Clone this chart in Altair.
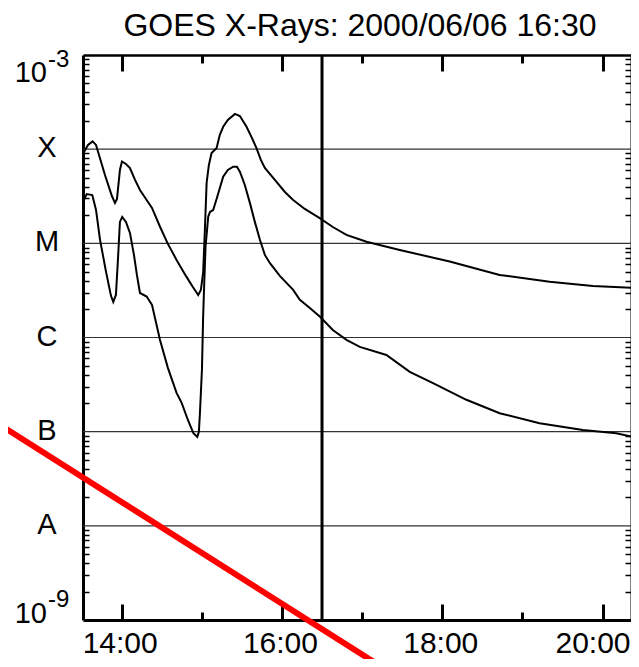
import altair as alt
import pandas as pd

FONT = "Liberation Sans"
TITLE = "GOES X-Rays: 2000/06/06 16:30"

X_DOMAIN = ["13:31:03", "20:21:20"]
Y_DOMAIN = [1e-9, 1e-3]

CLASS_FLUX = [1e-4, 1e-5, 1e-6, 1e-7, 1e-8]
CLASS_LABELS = ["X", "M", "C", "B", "A"]
TOP_FLUX = [1e-3]
BOTTOM_FLUX = [1e-9]
EDGE_BASE = ["10"]
TOP_EXP = ["-3"]
BOTTOM_EXP = ["-9"]

MAJOR_HOURS = [14, 16, 18, 20]
MINOR_HOURS = [15, 17, 19]
DECADES = [-9, -8, -7, -6, -5, -4]
MINOR_MANTISSA = [2, 3, 4, 5, 6, 7, 8, 9]

MARKER_TIME = ["16:30:00"]

RED_TIME = ["12:28:57", "17:13:14"]
RED_FLUX = [1.18e-7, 3.27e-10]

UPPER_TIME = [
    "13:31:48", "13:34:48", "13:38:12", "13:40:48", "13:47:30", "13:52:42",
    "13:55:00", "13:56:30", "13:58:42", "14:00:12", "14:03:12", "14:06:12",
    "14:10:00", "14:13:42", "14:18:42", "14:22:42", "14:28:42", "14:34:36",
    "14:41:06", "14:48:06", "14:53:18", "14:57:18", "14:59:18", "15:01:00",
    "15:02:18", "15:03:36", "15:05:18", "15:07:18", "15:11:06", "15:13:30",
    "15:16:00", "15:19:30", "15:24:48", "15:28:30", "15:33:30", "15:37:30",
    "15:41:00", "15:44:12", "15:47:12", "15:54:42", "16:02:12", "16:08:24",
    "16:17:06", "16:28:18", "16:38:06", "16:48:18", "17:03:18", "17:28:12",
    "18:05:36", "18:43:00", "19:20:24", "19:52:48", "20:26:30",
]
UPPER_FLUX = [
    9.33e-5, 1.11e-4, 1.21e-4, 1.11e-4, 5.32e-5, 3.18e-5,
    2.69e-5, 2.96e-5, 6.01e-5, 7.40e-5, 6.97e-5, 6.31e-5,
    4.71e-5, 3.69e-5, 2.89e-5, 2.38e-5, 1.50e-5, 9.86e-6,
    6.67e-6, 4.51e-6, 3.44e-6, 2.83e-6, 3.20e-6, 4.85e-6,
    1.39e-5, 4.38e-5, 6.79e-5, 9.12e-5, 1.03e-4, 1.42e-4,
    1.73e-4, 2.04e-4, 2.37e-4, 2.25e-4, 1.73e-4, 1.32e-4,
    1.02e-4, 7.68e-5, 6.31e-5, 4.71e-5, 3.51e-5, 2.89e-5,
    2.32e-5, 1.85e-5, 1.49e-5, 1.23e-5, 1.04e-5, 8.51e-6,
    6.40e-6, 4.62e-6, 3.92e-6, 3.53e-6, 3.34e-6,
]

LOWER_TIME = [
    "13:31:48", "13:33:48", "13:38:00", "13:40:48", "13:43:48", "13:48:18",
    "13:52:00", "13:53:42", "13:55:42", "13:57:12", "13:58:42", "14:00:24",
    "14:03:12", "14:06:12", "14:09:12", "14:11:24", "14:13:42", "14:18:42",
    "14:22:42", "14:28:42", "14:34:36", "14:41:06", "14:44:54", "14:49:36",
    "14:53:36", "14:56:36", "14:57:48", "14:58:36", "15:00:06", "15:01:00",
    "15:01:54", "15:02:48", "15:04:48", "15:06:06", "15:08:30", "15:11:18",
    "15:16:00", "15:19:30", "15:23:30", "15:26:18", "15:28:30", "15:32:12",
    "15:36:00", "15:39:42", "15:43:30", "15:47:12", "15:50:54", "15:58:24",
    "16:08:24", "16:13:24", "16:20:54", "16:28:18", "16:38:06", "16:48:18",
    "16:58:18", "17:18:12", "17:35:42", "17:53:06", "18:18:06", "18:43:00",
    "19:12:54", "19:45:18", "20:10:18", "20:26:30",
]
LOWER_FLUX = [
    2.89e-5, 3.34e-5, 3.26e-5, 2.26e-5, 1.09e-5, 4.97e-6,
    2.77e-6, 2.39e-6, 2.83e-6, 6.67e-6, 1.69e-5, 1.91e-5,
    1.69e-5, 1.29e-5, 7.53e-6, 4.62e-6, 2.97e-6, 2.72e-6,
    2.22e-6, 9.43e-7, 4.76e-7, 2.58e-7, 2.02e-7, 1.33e-7,
    9.70e-8, 8.81e-8, 9.95e-8, 1.58e-7, 4.53e-7, 1.67e-6,
    4.08e-6, 9.23e-6, 1.92e-5, 2.15e-5, 2.26e-5, 3.03e-5,
    5.10e-5, 6.01e-5, 6.52e-5, 6.52e-5, 5.77e-5, 4.17e-5,
    2.69e-5, 1.69e-5, 1.09e-5, 7.53e-6, 6.19e-6, 4.51e-6,
    3.20e-6, 2.51e-6, 2.06e-6, 1.67e-6, 1.20e-6, 9.43e-7,
    7.95e-7, 6.53e-7, 4.31e-7, 3.27e-7, 2.18e-7, 1.57e-7,
    1.23e-7, 1.04e-7, 9.63e-8, 8.53e-8,
]


def hours(s):
    h, m, sec = s.split(":")
    return int(h) + int(m) / 60 + float(sec) / 3600


curves = pd.concat([
    pd.DataFrame({"hours": [hours(t) for t in UPPER_TIME], "flux": UPPER_FLUX, "series": "1-8 A"}),
    pd.DataFrame({"hours": [hours(t) for t in LOWER_TIME], "flux": LOWER_FLUX, "series": "0.5-4 A"}),
], ignore_index=True)

classes = pd.DataFrame({"flux": CLASS_FLUX, "label": CLASS_LABELS})
top_lab = pd.DataFrame({"flux": TOP_FLUX, "base": EDGE_BASE, "exp": TOP_EXP})
bot_lab = pd.DataFrame({"flux": BOTTOM_FLUX, "base": EDGE_BASE, "exp": BOTTOM_EXP})
marker = pd.DataFrame({"hours": [hours(t) for t in MARKER_TIME]})
red = pd.DataFrame({"hours": [hours(t) for t in RED_TIME], "flux": RED_FLUX})

minor_flux = [m * 10.0 ** d for d in DECADES for m in MINOR_MANTISSA]

xs = alt.Scale(domain=[hours(t) for t in X_DOMAIN], nice=False, zero=False)
ys = alt.Scale(type="log", domain=Y_DOMAIN, nice=False)


def tick_axis(orient, size, values, width=3):
    return alt.Axis(orient=orient, offset=-size, tickSize=size, tickWidth=width,
                    tickColor="black", values=values, labels=False, domain=False,
                    grid=False, title=None)


def frame_axis(orient, width):
    return alt.Axis(orient=orient, labels=False, ticks=False, domain=True,
                    domainColor="black", domainWidth=width, grid=False, title=None)


last_hour = MAJOR_HOURS[-1]
x_bottom_main = alt.Axis(
    orient="bottom", values=MAJOR_HOURS, labelExpr="datum.value + ':00'",
    labelFont=FONT, labelFontSize=30, labelColor="black", labelPadding=8,
    labelOffset={"condition": {"test": f"datum.value == {last_hour}", "value": -10}, "value": -2},
    labelFlush=False, labelOverlap=False, ticks=False,
    domain=True, domainColor="black", domainWidth=3, grid=False, title=None,
)

base = alt.Chart(curves)


def axis_layer(xaxis, yaxis):
    return base.mark_point(opacity=0).encode(
        x=alt.X("hours:Q", scale=xs, axis=xaxis),
        y=alt.Y("flux:Q", scale=ys, axis=yaxis),
    )


axes_layers = [
    axis_layer(x_bottom_main, frame_axis("left", 3)),
    axis_layer(tick_axis("bottom", 16, MAJOR_HOURS), tick_axis("left", 6, minor_flux, 1.5)),
    axis_layer(tick_axis("bottom", 8, MINOR_HOURS), frame_axis("right", 2)),
    axis_layer(frame_axis("top", 2.5), tick_axis("right", 6, minor_flux, 1.5)),
    axis_layer(tick_axis("top", 16, MAJOR_HOURS), None),
    axis_layer(tick_axis("top", 8, MINOR_HOURS), None),
]

grid = alt.Chart(classes).mark_rule(color="#333333", strokeWidth=1.2).encode(
    y=alt.Y("flux:Q", scale=ys, axis=None)
)

lines = base.mark_line(color="black", strokeWidth=2, clip=True).encode(
    x=alt.X("hours:Q", scale=xs, axis=None),
    y=alt.Y("flux:Q", scale=ys, axis=None),
    detail="series:N",
)

vline = alt.Chart(marker).mark_rule(color="black", strokeWidth=3).encode(
    x=alt.X("hours:Q", scale=xs, axis=None)
)

redline = alt.Chart(red).mark_line(color="#ff0000", strokeWidth=6, clip=False).encode(
    x=alt.X("hours:Q", scale=xs, axis=None),
    y=alt.Y("flux:Q", scale=ys, axis=None),
)

class_text = alt.Chart(classes).mark_text(
    font=FONT, fontSize=29, align="center", baseline="middle", color="black", dy=-1
).encode(y=alt.Y("flux:Q", scale=ys, axis=None), x=alt.value(-36), text="label:N")

top_base = alt.Chart(top_lab).mark_text(
    font=FONT, fontSize=29, align="right", baseline="alphabetic", color="black", dy=27
).encode(y=alt.Y("flux:Q", scale=ys, axis=None), x=alt.value(-36), text="base:N")
top_exp = alt.Chart(top_lab).mark_text(
    font=FONT, fontSize=24, align="left", baseline="alphabetic", color="black", dy=12, dx=1
).encode(y=alt.Y("flux:Q", scale=ys, axis=None), x=alt.value(-36), text="exp:N")
bot_base = alt.Chart(bot_lab).mark_text(
    font=FONT, fontSize=29, align="right", baseline="alphabetic", color="black", dy=3
).encode(y=alt.Y("flux:Q", scale=ys, axis=None), x=alt.value(-36), text="base:N")
bot_exp = alt.Chart(bot_lab).mark_text(
    font=FONT, fontSize=24, align="left", baseline="alphabetic", color="black", dy=-13, dx=1
).encode(y=alt.Y("flux:Q", scale=ys, axis=None), x=alt.value(-36), text="exp:N")

chart = alt.layer(
    *axes_layers, grid, lines, vline, redline, class_text, top_base, top_exp, bot_base, bot_exp
).resolve_axis(
    x="independent", y="independent"
).properties(
    width=548,
    height=565,
    autosize=alt.AutoSizeParams(type="none"),
    padding={"left": 75, "top": 47, "right": 0, "bottom": 39},
    title=alt.TitleParams(TITLE, font=FONT, fontSize=32, fontWeight="normal", color="black",
                          anchor="middle", baseline="alphabetic", offset=-20, dx=3),
).configure_view(stroke=None).configure(background="white")

chart.save("out.html", embed_options={"renderer": "svg", "actions": False})
